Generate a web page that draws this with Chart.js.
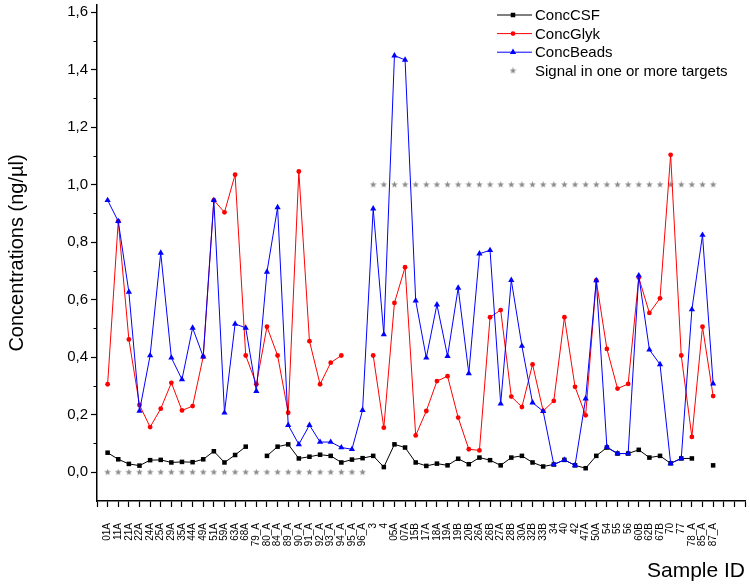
<!DOCTYPE html>
<html>
<head>
<meta charset="utf-8">
<script src="https://cdn.jsdelivr.net/npm/chart.js@4.4.1/dist/chart.umd.min.js"></script>
<style>
    body { margin: 0; background: #fff; }
</style>
</head>
<body>
<canvas id="concChart" width="750" height="587"></canvas>
<script>
var sampleIds = ['01A','11A','21A','22A','24A','25A','29A','35A','44A','49A','51A','59A','63A','68A',
    '79_A','80_A','84_A','89_A','90_A','91_A','92_A','93_A','94_A','95_A','96_A','3','4','05A','07A',
    '15B','17A','18A','19A','19B','20B','26A','26B','27A','28B','30A','32B','33B','34','40','42','47A',
    '50A','54','55','56','60B','62B','67B','70','77','78_A','85_A','87_A'];

var concCSF = [0.068, 0.045, 0.029, 0.023, 0.042, 0.043, 0.034, 0.036, 0.035, 0.045,
    0.073, 0.034, 0.060, 0.089, null, 0.057, 0.089, 0.097, 0.048, 0.054,
    0.061, 0.057, 0.034, 0.044, 0.049, 0.057, 0.018, 0.097, 0.086, 0.034,
    0.022, 0.030, 0.024, 0.047, 0.028, 0.051, 0.042, 0.024, 0.051, 0.057,
    0.034, 0.020, 0.027, 0.043, 0.024, 0.014, 0.057, 0.086, 0.065, 0.065,
    0.078, 0.051, 0.057, 0.031, 0.048, 0.048, null, 0.024];

var concGlyk = [0.306, 0.873, 0.462, 0.234, 0.157, 0.221, 0.311, 0.215, 0.230, 0.402,
    0.946, 0.904, 1.035, 0.406, 0.306, 0.506, 0.406, 0.207, 1.046, 0.456,
    0.306, 0.381, 0.406, null, null, 0.406, 0.155, 0.589, 0.713, 0.128,
    0.213, 0.317, 0.334, 0.190, 0.080, 0.076, 0.539, 0.564, 0.263, 0.227,
    0.375, 0.213, 0.248, 0.539, 0.297, 0.198, 0.667, 0.429, 0.291, 0.307,
    0.677, 0.554, 0.605, 1.104, 0.406, 0.123, 0.506, 0.265];

var concBeads = [0.946, 0.873, 0.627, 0.213, 0.406, 0.763, 0.398, 0.323, 0.502, 0.402,
    0.946, 0.207, 0.516, 0.502, 0.282, 0.697, 0.921, 0.164, 0.097, 0.164,
    0.105, 0.105, 0.086, 0.080, 0.216, 0.917, 0.479, 1.449, 1.434, 0.597,
    0.398, 0.583, 0.404, 0.641, 0.344, 0.760, 0.772, 0.238, 0.668, 0.439,
    0.242, 0.212, 0.027, 0.043, 0.024, 0.256, 0.667, 0.088, 0.065, 0.065,
    0.684, 0.426, 0.375, 0.031, 0.048, 0.566, 0.825, 0.308];

var signalTargets = [0, 0, 0, 0, 0, 0, 0, 0, 0, 0,
    0, 0, 0, 0, 0, 0, 0, 0, 0, 0,
    0, 0, 0, 0, 0, 1, 1, 1, 1, 1,
    1, 1, 1, 1, 1, 1, 1, 1, 1, 1,
    1, 1, 1, 1, 1, 1, 1, 1, 1, 1,
    1, 1, 1, 1, 1, 1, 1, 1];

var yTickValues = [0, 0.2, 0.4, 0.6, 0.8, 1.0, 1.2, 1.4, 1.6];
var yMinorValues = [0.1, 0.3, 0.5, 0.7, 0.9, 1.1, 1.3, 1.5];

var FONT = "'Liberation Sans', Arial, sans-serif";

function toPoints(values) {
    return values.map(function (v, i) { return { x: i + 1, y: v }; });
}

// little grey five pointed star, used as point style
function makeStar(size, color) {
    var c = document.createElement('canvas');
    c.width = size; c.height = size;
    var g = c.getContext('2d');
    var cx = size / 2, cy = size / 2, ro = size / 2, ri = ro * 0.42;
    g.beginPath();
    for (var k = 0; k < 10; k++) {
        var r = (k % 2 === 0) ? ro : ri;
        var a = -Math.PI / 2 + k * Math.PI / 5;
        g.lineTo(cx + r * Math.cos(a), cy + r * Math.sin(a));
    }
    g.closePath();
    g.fillStyle = color;
    g.fill();
    return c;
}
var starImg = makeStar(7, '#8c8c8c');

var legendItems = [
    { text: 'ConcCSF', color: '#000000', style: 'rect', radius: 3.2, line: true },
    { text: 'ConcGlyk', color: '#ff0000', style: 'circle', radius: 2.4, line: true },
    { text: 'ConcBeads', color: '#0000ff', style: 'triangle', radius: 3.6, line: true },
    { text: 'Signal in one or more targets', color: '#8c8c8c', style: starImg, radius: 3, line: false }
];

var legendPlugin = {
    id: 'originLegend',
    afterDraw: function (chart) {
        var ctx = chart.ctx;
        ctx.save();
        ctx.font = '15px ' + FONT;
        ctx.textBaseline = 'middle';
        ctx.textAlign = 'left';
        legendItems.forEach(function (item, i) {
            var y = 15 + i * 18.6;
            if (item.line) {
                ctx.strokeStyle = item.color;
                ctx.lineWidth = 1;
                ctx.beginPath();
                ctx.moveTo(497, y);
                ctx.lineTo(532, y);
                ctx.stroke();
            }
            ctx.fillStyle = item.color;
            ctx.strokeStyle = item.color;
            Chart.helpers.drawPoint(ctx, { pointStyle: item.style, radius: item.radius, borderWidth: 0, rotation: 0 }, 513, y);
            ctx.fillStyle = '#000';
            ctx.fillText(item.text, 535, y + 1);
        });
        ctx.restore();
    }
};

var minorTickPlugin = {
    id: 'minorTicks',
    afterDraw: function (chart) {
        var ys = chart.scales.y;
        var ctx = chart.ctx;
        ctx.save();
        ctx.strokeStyle = '#000';
        ctx.lineWidth = 1;
        yMinorValues.forEach(function (v) {
            var py = Math.round(ys.getPixelForValue(v)) + 0.5;
            ctx.beginPath();
            ctx.moveTo(ys.right - 3.5, py);
            ctx.lineTo(ys.right, py);
            ctx.stroke();
        });
        ctx.restore();
    }
};

var config = {
    type: 'line',
    data: {
        datasets: [{
            label: 'ConcCSF',
            data: toPoints(concCSF),
            borderColor: '#000000',
            backgroundColor: '#000000',
            borderWidth: 1,
            pointStyle: 'rect',
            pointRadius: 3.2,
            pointBorderWidth: 0,
            spanGaps: false,
            order: 3
        }, {
            label: 'ConcGlyk',
            data: toPoints(concGlyk),
            borderColor: '#ff0000',
            backgroundColor: '#ff0000',
            borderWidth: 1,
            pointStyle: 'circle',
            pointRadius: 2.4,
            pointBorderWidth: 0,
            spanGaps: false,
            order: 2
        }, {
            label: 'ConcBeads',
            data: toPoints(concBeads),
            borderColor: '#0000ff',
            backgroundColor: '#0000ff',
            borderWidth: 1,
            pointStyle: 'triangle',
            pointRadius: 3.6,
            pointBorderWidth: 0,
            spanGaps: false,
            order: 1
        }, {
            label: 'Signal in one or more targets',
            data: toPoints(signalTargets),
            showLine: false,
            pointStyle: starImg,
            pointRadius: 3,
            order: 4
        }]
    },
    options: {
        responsive: false,
        animation: false,
        layout: { autoPadding: false, padding: { top: 5, right: 5, left: 0, bottom: 0 } },
        plugins: {
            legend: { display: false },
            tooltip: { enabled: false }
        },
        scales: {
            x: {
                type: 'linear',
                min: 0,
                max: 61,
                afterFit: function (scale) {
                    scale.height = 86;
                    scale.paddingLeft = 0;
                    scale.paddingRight = 0;
                },
                ticks: {
                    stepSize: 1,
                    autoSkip: false,
                    minRotation: 90,
                    maxRotation: 90,
                    padding: 16,
                    color: '#000',
                    font: { family: FONT, size: 10 },
                    callback: function (v) { return sampleIds[v - 1] || ''; }
                },
                grid: { drawOnChartArea: false, tickLength: 6, color: '#000', tickWidth: 1.2 },
                border: { color: '#000', width: 1.5 },
                title: {
                    display: true,
                    text: 'Sample ID',
                    align: 'end',
                    color: '#000',
                    font: { family: FONT, size: 21 },
                    padding: { top: 0, bottom: 3 }
                }
            },
            y: {
                type: 'linear',
                min: -0.1,
                max: 1.625,
                afterFit: function (scale) {
                    scale.width = 97;
                    scale.paddingTop = 0;
                    scale.paddingBottom = 0;
                },
                afterBuildTicks: function (scale) {
                    scale.ticks = yTickValues.map(function (v) { return { value: v }; });
                },
                ticks: {
                    padding: 3,
                    color: '#000',
                    font: { family: FONT, size: 15 },
                    callback: function (v) { return v.toFixed(1).replace('.', ','); }
                },
                grid: { drawOnChartArea: false, tickLength: 6, color: '#000', tickWidth: 1.2 },
                border: { color: '#000', width: 1.5 },
                title: {
                    display: true,
                    text: 'Concentrations (ng/µl)',
                    color: '#000',
                    font: { family: FONT, size: 20 },
                    padding: { top: 5, bottom: 0 }
                }
            }
        }
    },
    plugins: [legendPlugin, minorTickPlugin]
};

var ctx = document.getElementById('concChart').getContext('2d');
window.concChart = new Chart(ctx, config);
</script>
</body>
</html>
